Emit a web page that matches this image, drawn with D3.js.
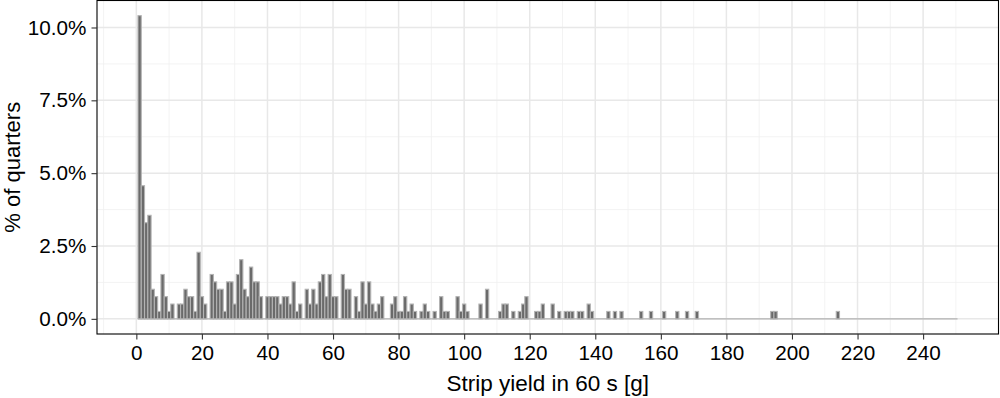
<!DOCTYPE html>
<html>
<head>
<meta charset="utf-8">
<script src="https://cdn.jsdelivr.net/npm/d3@7"></script>
<style>
  html, body { margin: 0; padding: 0; background: #fff; }
  svg { display: block; font-family: "Liberation Sans", Arial, sans-serif; }
</style>
</head>
<body>
<svg id="chart" width="1000" height="398"></svg>
<script>
// ---- data ----
// bin centres (strip yield, g; bin width 1 g) that contain at least one quarter
const yieldBins = [1,2,3,4,5,6,7,8,9,10,11,13,14,15,16,17,18,19,20,21,23,24,25,26,27,28,29,30,
  31,32,33,34,35,36,37,38,40,41,42,43,44,45,46,47,48,49,50,52,53,54,55,56,57,58,59,60,61,
  63,64,65,67,68,69,70,71,72,73,74,75,78,79,80,81,82,83,84,85,87,88,89,91,93,94,95,98,99,100,
  101,105,107,111,112,113,115,117,118,119,122,123,124,127,129,131,132,133,135,136,138,139,
  144,146,148,154,157,161,165,168,171,194,195,214];
// number of quarters in each bin
const quarterCounts = [41,18,13,14,4,3,1,6,3,1,2,2,2,4,3,3,1,9,3,2,6,5,4,4,1,5,5,2,
  6,8,4,3,7,5,5,3,3,3,3,3,2,3,3,2,5,1,2,4,2,4,2,5,6,3,6,3,3,
  6,4,4,3,1,5,2,5,2,1,2,3,2,3,1,1,3,1,2,1,1,2,1,1,3,1,1,3,1,2,
  1,2,4,1,2,2,1,1,2,3,1,1,2,2,1,1,1,1,1,1,2,1,
  1,1,1,1,1,1,1,1,1,1,1,1];
const totalQuarters = 394;          // estimated total number of quarters
const binRange = [0.5, 250.5];      // histogram covers 0.5 … 250.5 g
const xTicks = [0,20,40,60,80,100,120,140,160,180,200,220,240];
const xMinor = [-10,10,30,50,70,90,110,130,150,170,190,210,230,250];
const yTicks = [0, 2.5, 5, 7.5, 10];
const yMinor = [1.25, 3.75, 6.25, 8.75];
const xTitle = "Strip yield in 60 s [g]";
const yTitle = "% of quarters";

// ---- layout ----
const svg = d3.select("#chart");
const panel = { left: 97, right: 998.5, top: 0.5, bottom: 334 };

const pct = quarterCounts.map(c => c / totalQuarters * 100);
const data = yieldBins.map((v, i) => ({ v, p: pct[i] }));

const xSpan = binRange[1] - binRange[0];
const x = d3.scaleLinear()
  .domain([binRange[0] - 0.05 * xSpan, binRange[1] + 0.05 * xSpan])
  .range([panel.left, panel.right]);
const yMax = d3.max(pct);
const y = d3.scaleLinear()
  .domain([-0.05 * yMax, 1.05 * yMax])
  .range([panel.bottom, panel.top]);

// panel background
svg.append("rect")
  .attr("x", panel.left).attr("y", panel.top)
  .attr("width", panel.right - panel.left).attr("height", panel.bottom - panel.top)
  .attr("fill", "#fff");

const grid = svg.append("g");
// minor grid
grid.selectAll(".xmin").data(xMinor).join("line")
  .attr("x1", d => x(d)).attr("x2", d => x(d))
  .attr("y1", panel.top).attr("y2", panel.bottom)
  .attr("stroke", "#f0f0f0").attr("stroke-width", 0.8);
grid.selectAll(".ymin").data(yMinor).join("line")
  .attr("y1", d => y(d)).attr("y2", d => y(d))
  .attr("x1", panel.left).attr("x2", panel.right)
  .attr("stroke", "#f0f0f0").attr("stroke-width", 0.8);
// major grid
grid.selectAll(".xmaj").data(xTicks).join("line")
  .attr("x1", d => x(d)).attr("x2", d => x(d))
  .attr("y1", panel.top).attr("y2", panel.bottom)
  .attr("stroke", "#e8e8e8").attr("stroke-width", 1.5);
grid.selectAll(".ymaj").data(yTicks).join("line")
  .attr("y1", d => y(d)).attr("y2", d => y(d))
  .attr("x1", panel.left).attr("x2", panel.right)
  .attr("stroke", "#e8e8e8").attr("stroke-width", 1.5);

// zero-height bins appear as a baseline
svg.append("line")
  .attr("x1", x(binRange[0])).attr("x2", x(binRange[1]))
  .attr("y1", y(0)).attr("y2", y(0))
  .attr("stroke", "#b3b3b3").attr("stroke-width", 1.1);

// bars
svg.append("g").selectAll("rect").data(data).join("rect")
  .attr("x", d => x(d.v - 0.5))
  .attr("width", d => x(d.v + 0.5) - x(d.v - 0.5))
  .attr("y", d => y(d.p))
  .attr("height", d => y(0) - y(d.p))
  .attr("fill", "#6a6a6a")
  .attr("stroke", "#b3b3b3")
  .attr("stroke-width", 1.1);

// panel border
svg.append("rect")
  .attr("x", panel.left).attr("y", panel.top)
  .attr("width", panel.right - panel.left).attr("height", panel.bottom - panel.top)
  .attr("fill", "none").attr("stroke", "#000").attr("stroke-width", 1.1);

// axes
const xAxis = d3.axisBottom(x).tickValues(xTicks).tickSize(5.5).tickPadding(6)
  .tickFormat(d3.format("d"));
const gx = svg.append("g").attr("transform", `translate(0,${panel.bottom})`).call(xAxis);
gx.select(".domain").remove();
gx.selectAll(".tick line").attr("stroke", "#333").attr("stroke-width", 1.1);
gx.selectAll(".tick text").attr("fill", "#000").attr("font-size", 20.7)
  .attr("font-family", "Liberation Sans, Arial, sans-serif");

const yAxis = d3.axisLeft(y).tickValues(yTicks).tickSize(5.5).tickPadding(5)
  .tickFormat(d => d3.format(".1f")(d) + "%");
const gy = svg.append("g").attr("transform", `translate(${panel.left},0)`).call(yAxis);
gy.select(".domain").remove();
gy.selectAll(".tick line").attr("stroke", "#333").attr("stroke-width", 1.1);
gy.selectAll(".tick text").attr("fill", "#000").attr("font-size", 20.7)
  .attr("font-family", "Liberation Sans, Arial, sans-serif");

// titles
svg.append("text")
  .attr("x", (panel.left + panel.right) / 2).attr("y", 391)
  .attr("text-anchor", "middle").attr("font-size", 22.5).attr("fill", "#000")
  .text(xTitle);
svg.append("text")
  .attr("transform", `translate(20,${(panel.top + panel.bottom) / 2}) rotate(-90)`)
  .attr("text-anchor", "middle").attr("font-size", 22).attr("fill", "#000")
  .text(yTitle);
</script>
</body>
</html>
